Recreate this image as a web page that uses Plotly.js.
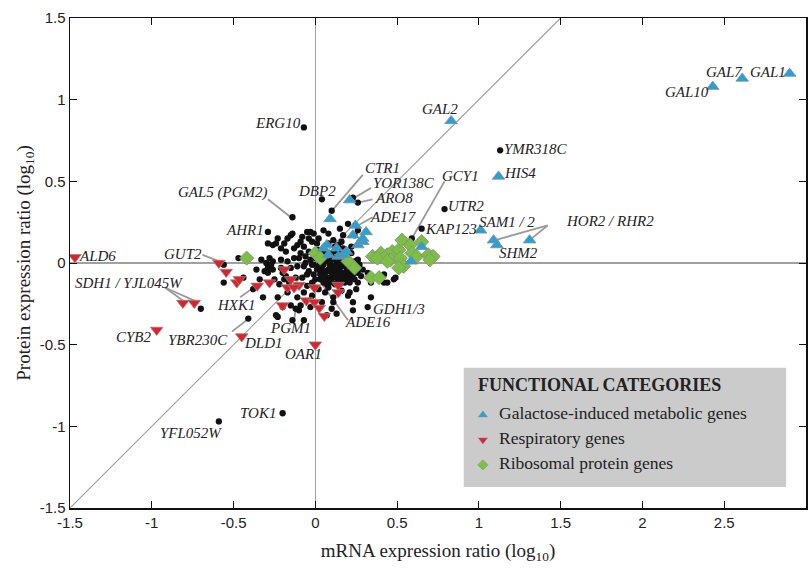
<!DOCTYPE html>
<html>
<head>
<meta charset="utf-8">
<script src="https://cdn.plot.ly/plotly-3.0.1.min.js"></script>
<style>html,body{margin:0;padding:0;background:#fff;}#chart{width:809px;height:571px;}</style>
</head>
<body>
<div id="chart"></div>
<script>
// ---- Data (log10 mRNA ratio, log10 protein ratio) ----
const galactoseGenes = [
  [2.90,1.16],[2.61,1.13],[2.43,1.08],[0.83,0.87],[1.12,0.53],[1.01,0.20],[1.09,0.14],[1.11,0.11],[1.31,0.14],
  [0.65,0.10],[0.585,0.01],[0.09,0.27],[0.21,0.385],[0.245,0.23],[0.31,0.19],[0.23,0.17],
  [0.05,0.09],[0.07,0.11],[0.08,0.05],[0.13,0.09],[0.14,0.04],[0.17,0.05],[0.19,0.07],[0.26,0.11],[0.29,0.13],[0.29,0.15]
];
const respiratoryGenes = [
  [-1.47,0.035],[-0.97,-0.41],[-0.81,-0.245],[-0.74,-0.245],[-0.59,0.0],[-0.545,-0.055],[-0.48,-0.12],[-0.465,-0.10],
  [-0.355,-0.14],[-0.28,-0.12],[-0.19,-0.04],[-0.15,-0.10],[-0.10,-0.135],[-0.17,-0.15],[-0.13,-0.15],[-0.20,-0.26],
  [-0.055,-0.23],[-0.006,-0.15],[-0.006,-0.24],[0.024,-0.275],[0.055,-0.325],[0.14,-0.135],[0.14,-0.18],[-0.45,-0.45],[0.0,-0.50]
];
const ribosomalGenes = [
  [-0.42,0.03],[0.0,0.06],[0.03,0.03],[0.20,0.01],[0.24,-0.03],[0.35,0.04],[0.40,0.06],[0.38,0.03],[0.44,0.05],
  [0.47,0.07],[0.46,0.02],[0.51,0.08],[0.53,0.14],[0.52,0.03],[0.54,-0.02],[0.58,0.11],[0.59,0.06],[0.65,0.13],
  [0.62,0.04],[0.69,0.05],[0.72,0.04],[0.70,0.02],[0.34,-0.09],[0.39,-0.09],[0.51,-0.03],[0.44,0.01]
];
const otherGenes = [
  [-0.07,0.83],[1.13,0.69],[0.79,0.33],[0.65,0.21],[0.59,0.15],[0.04,0.39],[0.10,0.32],[0.23,0.40],[0.26,0.37],[-0.14,0.28],
  [-0.29,0.19],[-0.20,-0.92],[-0.59,-0.97],[0.34,-0.21],[0.32,-0.27],[0.21,-0.18],[-0.70,-0.28],[-0.56,-0.01],[-0.56,-0.12],[-0.44,-0.09],
  [-0.47,0.03],[-0.38,-0.16],[-0.41,-0.34],[-0.32,-0.21],[-0.24,-0.32],
  [-0.29,0.12],[-0.24,0.12],[-0.23,0.15],[-0.17,0.15],[-0.14,0.18],[-0.03,0.19],[0.08,0.18],[0.15,0.21],[0.20,0.24],[-0.21,0.09],
  [-0.11,0.11],[-0.07,0.10],[-0.02,0.13],[0.08,0.12],[0.12,0.10],[-0.05,0.19],[-0.01,0.18],[0.17,0.17],[0.26,0.20],[-0.15,0.17],
  [-0.26,0.11],[-0.18,0.07],[-0.13,0.09],[-0.09,0.13],[0.02,0.15],[-0.04,0.15],[0.05,0.20],[0.24,0.17],
  [-0.06,0.04],[-0.10,0.03],[-0.13,0.03],[-0.17,0.01],[-0.21,0.02],[-0.26,0.01],[-0.26,-0.04],[-0.21,-0.03],[-0.15,-0.03],[-0.11,-0.02],
  [-0.07,-0.02],[-0.02,-0.01],[0.03,0.00],[0.08,0.01],[0.12,0.03],[0.17,0.00],[0.09,-0.03],[0.04,-0.06],[-0.01,-0.07],[-0.05,-0.07],
  [-0.08,-0.09],[-0.12,-0.09],[0.03,-0.10],[0.08,-0.09],[0.14,-0.07],[0.20,-0.06],[0.24,-0.10],[0.21,-0.12],[0.08,-0.15],[0.06,-0.18],
  [0.11,-0.21],[-0.07,-0.18],[-0.11,-0.21],[-0.17,-0.18],[-0.23,-0.21],[-0.03,-0.27],[-0.10,-0.29],[-0.15,-0.26],[0.20,-0.20],[0.23,-0.24],
  [0.13,-0.31],[-0.23,-0.33],[-0.07,-0.35],[0.07,-0.32],[0.23,-0.29],[-0.12,-0.28],[-0.09,-0.26],[0.00,-0.10],[0.10,-0.28],[0.26,-0.12],
  [0.44,-0.12],[0.48,-0.10],[0.42,-0.12],[0.49,-0.09],[0.53,-0.03],[0.42,-0.07],[0.23,-0.03],[0.26,-0.06],[0.23,-0.07],[0.29,-0.04],
  [0.32,-0.06],[0.24,0.01],[0.34,-0.12],
  [0.02,0.08],[0.05,0.07],[0.07,0.05],[0.10,0.06],[0.13,0.07],[0.15,0.04],[0.18,0.05],[0.20,0.02],[0.03,0.03],[0.06,0.02],
  [0.09,-0.01],[0.11,-0.02],[0.13,0.01],[0.16,-0.02],[0.19,-0.03],[0.21,-0.01],[0.04,-0.03],[0.07,-0.05],[0.10,-0.06],[0.12,-0.04],
  [0.15,-0.05],[0.17,-0.08],[0.13,-0.09],[0.10,-0.10],[0.06,-0.08],[0.01,-0.04],[0.00,0.03],[0.02,-0.02],[0.14,0.11],[0.17,0.09],
  [0.22,0.06],[0.26,0.02],[0.27,-0.01],[0.25,-0.04],[0.28,-0.08],[0.22,-0.09],[0.18,-0.12],[0.15,-0.13],[0.12,-0.13],[0.05,-0.12],
  [-0.02,-0.12],[-0.04,-0.05],[-0.06,0.00],[-0.09,0.06],[-0.04,0.07],[0.01,0.12],[0.11,0.14],[0.16,0.13],
  [0.08,-0.04],[0.11,-0.08],[0.14,-0.03],[0.18,-0.06],[0.16,0.01],[0.19,0.00],[0.05,-0.01],[0.12,-0.06],[0.09,-0.12],[0.16,-0.10],
  [0.20,-0.09],[0.22,-0.05],[0.24,-0.02],[0.18,-0.01],[0.14,-0.11],[0.07,-0.13],[0.03,-0.07],[-0.01,-0.01],
  [-0.28,0.03],[-0.29,-0.03],[-0.29,-0.06],[-0.34,-0.10],[-0.30,0.00],[-0.27,-0.01],[-0.31,-0.05],[-0.33,0.02],[-0.36,-0.04],[-0.20,-0.06],
  [-0.18,-0.08],[-0.16,-0.12],[-0.25,-0.10],[-0.22,-0.13],[-0.05,-0.14],[-0.02,-0.20],[0.02,-0.16],[0.16,-0.17],[0.25,-0.16],
  [-0.19,-0.10],[-0.14,-0.35],[0.11,-0.24],[0.04,-0.24],[-0.20,-0.27],
  [0.10,0.02],[0.15,0.08],[0.19,-0.11],[0.13,-0.01],[0.06,-0.11],[0.01,0.06],[-0.03,0.02],[0.22,0.10],[-0.08,0.16],[-0.19,0.12]
];
const tickValues = [-1.5,-1,-0.5,0,0.5,1,1.5,2,2.5,3];
const xTickLabels = ['-1.5','-1','-0.5','0','0.5','1','1.5','2','2.5','3'];
const yTickValues = [-1.5,-1,-0.5,0,0.5,1,1.5];
const yTickLabels = ['-1.5','-1','-0.5','0','0.5','1','1.5'];
const categoryNames = ['Galactose-induced metabolic genes','Respiratory genes','Ribosomal protein genes'];
const legendTitle = 'FUNCTIONAL CATEGORIES';

// gene labels: [text, mRNA, protein, anchor]
const geneLabels = [
  ['GAL1',2.77,1.17,'center'],['GAL7',2.50,1.17,'center'],['GAL10',2.27,1.05,'center'],['GAL2',0.76,0.94,'center'],
  ['ERG10',-0.23,0.86,'center'],['YMR318C',1.35,0.70,'center'],['HIS4',1.25,0.55,'center'],['GCY1',0.89,0.53,'center'],
  ['UTR2',0.92,0.35,'center'],['KAP123',0.83,0.21,'center'],['SAM1 / 2',1.17,0.25,'center'],['HOR2 / RHR2',1.80,0.26,'center'],
  ['SHM2',1.24,0.06,'center'],['CTR1',0.41,0.58,'center'],['YOR138C',0.54,0.49,'center'],['ARO8',0.48,0.40,'center'],
  ['DBP2',0.01,0.44,'center'],['ADE17',0.48,0.28,'center'],['GAL5 (PGM2)',-0.28,0.43,'right'],['AHR1',-0.43,0.20,'center'],
  ['GUT2',-0.81,0.055,'center'],['ALD6',-1.33,0.04,'center'],['SDH1 / YJL045W',-1.14,-0.12,'center'],['HXK1',-0.48,-0.26,'center'],
  ['CYB2',-1.11,-0.45,'center'],['YBR230C',-0.72,-0.47,'center'],['DLD1',-0.32,-0.49,'center'],['PGM1',-0.15,-0.40,'center'],
  ['ADE16',0.32,-0.36,'center'],['GDH1/3',0.51,-0.28,'center'],['OAR1',-0.07,-0.56,'center'],['TOK1',-0.35,-0.92,'center'],
  ['YFL052W',-0.76,-1.04,'center']
];
// leader lines: [from mRNA, from protein, to mRNA, to protein]
const leaderLines = [
  [0.29,0.54,0.11,0.33],[0.34,0.46,0.24,0.40],[0.35,0.39,0.26,0.37],[-0.29,0.39,-0.15,0.28],[0.35,0.28,0.26,0.23],
  [0.79,0.50,0.59,0.15],[1.42,0.23,1.10,0.14],[1.42,0.23,1.31,0.14],[-0.69,0.05,-0.56,0.0],[-0.92,-0.15,-0.81,-0.23],
  [-0.92,-0.15,-0.74,-0.23],[-0.46,-0.21,-0.39,-0.16],[-0.51,-0.42,-0.42,-0.35],[-0.13,-0.35,-0.12,-0.28],[0.04,-0.13,0.20,-0.35]
];

const xs = a => a.map(p => p[0]);
const ys = a => a.map(p => p[1]);
const outline = {color:'#8a8a8a', width:0.8};
const colors = ['#23a2dc','#e3202a','#7cc043'];
const symbols = ['triangle-up','triangle-down','diamond'];

// legend box layout (fractions of the plot area)
const legendBox = {x0:0.535, x1:0.973, y0:0.043, y1:0.286};
const legendSymX = 0.561, legendTextX = 0.580, legendTitleY = 0.252, legendRowY = [0.190, 0.139, 0.088];

const traces = [
  {type:'scatter', mode:'markers', x:xs(otherGenes), y:ys(otherGenes), showlegend:false,
   marker:{color:'#111', size:6.3}},
  {type:'scatter', mode:'markers', name:categoryNames[2], x:xs(ribosomalGenes), y:ys(ribosomalGenes), showlegend:false,
   marker:{symbol:symbols[2], color:colors[2], size:11, line:outline}},
  {type:'scatter', mode:'markers', name:categoryNames[1], x:xs(respiratoryGenes), y:ys(respiratoryGenes), showlegend:false,
   marker:{symbol:symbols[1], color:colors[1], size:11, line:outline}},
  {type:'scatter', mode:'markers', name:categoryNames[0], x:xs(galactoseGenes), y:ys(galactoseGenes), showlegend:false,
   marker:{symbol:symbols[0], color:colors[0], size:11, line:outline}},
  // legend key symbols on an overlay axis spanning the plot area
  {type:'scatter', mode:'markers', xaxis:'x2', yaxis:'y2', showlegend:false,
   x:legendRowY.map(() => legendSymX), y:legendRowY,
   marker:{symbol:symbols, color:colors, size:8, line:{color:'#8a8a8a', width:0.5}}}
];

const shapes = [
  {type:'line', xref:'x', yref:'y', x0:-1.5, y0:-1.5, x1:1.5, y1:1.5, line:{color:'#a0a0a0', width:1.2}, layer:'below'},
  {type:'rect', xref:'paper', yref:'paper', x0:legendBox.x0, x1:legendBox.x1, y0:legendBox.y0, y1:legendBox.y1,
   fillcolor:'#cbcbcb', line:{width:0}, layer:'below'}
].concat(leaderLines.map(l => ({type:'line', xref:'x', yref:'y', x0:l[0], y0:l[1], x1:l[2], y1:l[3],
  line:{color:'#9a9a9a', width:1.8}, layer:'below'})));

const serif = 'Liberation Serif, Times New Roman, serif';
const annotations = geneLabels.map(g => ({
  x:g[1], y:g[2], xref:'x', yref:'y', text:'<i>'+g[0]+'</i>', showarrow:false, xanchor:g[3],
  font:{family:serif, size:15, color:'#222'}
})).concat([
  {x:0.552, y:legendTitleY, xref:'paper', yref:'paper', xanchor:'left', yanchor:'middle', showarrow:false,
   text:'<b>'+legendTitle+'</b>', font:{family:serif, size:18, color:'#222'}}
]).concat(categoryNames.map((n, i) => ({
  x:legendTextX, y:legendRowY[i] + 0.004, xref:'paper', yref:'paper', xanchor:'left', yanchor:'middle', showarrow:false,
  text:n, font:{family:serif, size:17.5, color:'#222'}
})));

const tickFont = {family:'Liberation Sans Narrow, Liberation Sans, Arial, sans-serif', size:15, color:'#222'};
const layout = {
  width:809, height:571,
  margin:{l:70, r:3, t:18, b:63},
  paper_bgcolor:'#fff', plot_bgcolor:'#fff',
  showlegend:false,
  xaxis:{range:[-1.5,3], tickvals:tickValues, ticktext:xTickLabels, ticks:'inside', ticklen:7, tickcolor:'#111',
    showline:true, linecolor:'#111', linewidth:1.5, mirror:'ticks', showgrid:false,
    zeroline:true, zerolinecolor:'#a0a0a0', zerolinewidth:1.2, tickfont:tickFont,
    title:{text:'mRNA expression ratio (log<sub>10</sub>)', font:{family:serif, size:19, color:'#222'}, standoff:14}},
  yaxis:{range:[-1.5,1.5], tickvals:yTickValues, ticktext:yTickLabels, ticks:'inside', ticklen:7, tickcolor:'#111',
    showline:true, linecolor:'#111', linewidth:1.5, mirror:'ticks', showgrid:false,
    zeroline:true, zerolinecolor:'#a0a0a0', zerolinewidth:1.2, tickfont:tickFont,
    title:{text:'Protein expression ratio (log<sub>10</sub>)', font:{family:serif, size:19, color:'#222'}, standoff:4}},
  xaxis2:{overlaying:'x', range:[0,1], visible:false, fixedrange:true},
  yaxis2:{overlaying:'y', range:[0,1], visible:false, fixedrange:true},
  shapes:shapes,
  annotations:annotations
};

Plotly.newPlot('chart', traces, layout, {staticPlot:true, displayModeBar:false});
</script>
</body>
</html>
